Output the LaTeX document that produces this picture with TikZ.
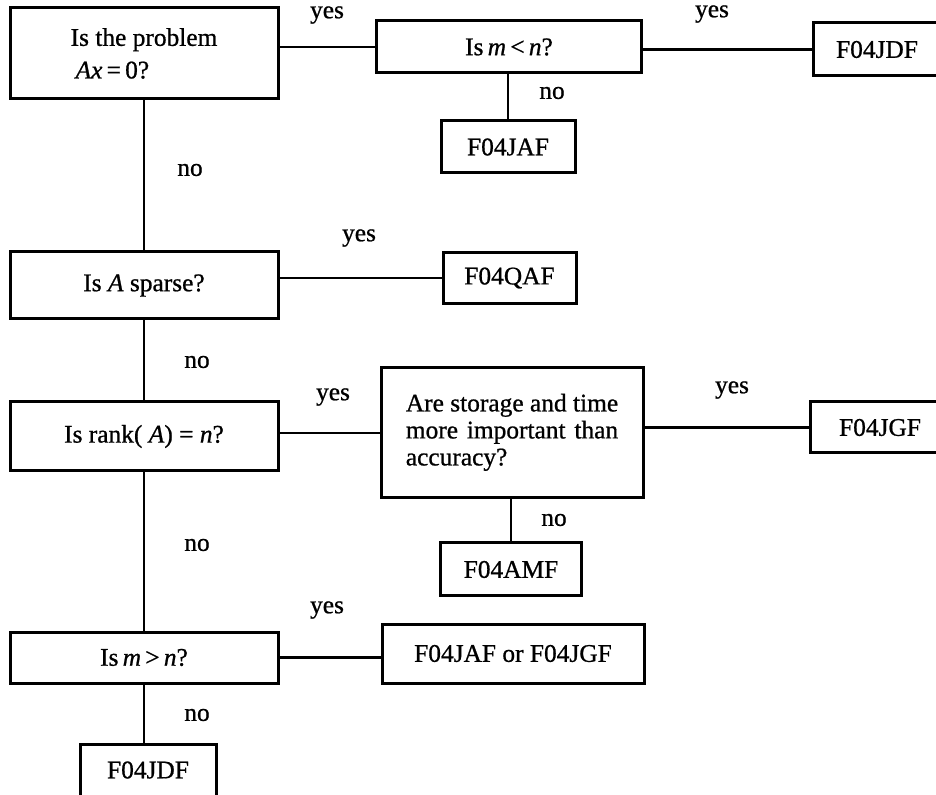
\documentclass[tikz,border=0pt]{standalone}
\usepackage{fontspec}
\setmainfont{Liberation Serif}[FakeBold=0.8]
\newlength\storagewd
\begin{document}
\begin{tikzpicture}[x=0.5pt,y=-0.5pt,
  box/.style={draw, line width=1.5pt, inner sep=0pt,
    font=\fontsize{12.7}{14.5}\selectfont},
  wire/.style={line width=1.3pt},
  lbl/.style={inner sep=0pt, font=\fontsize{12.7}{14.5}\selectfont}]
\useasboundingbox (0,0) rectangle (936,795);
\fill[white] (0,0) rectangle (936,795);
\clip (0,0) rectangle (936,795);

% questions down the left-hand spine
\node[box, minimum width=134pt, minimum height=45.5pt, align=left,
  font=\fontsize{12.7}{16.3}\selectfont] (q1) at (144,53.5)
  {Is the problem\\\hspace{2.5pt}\textit{Ax}\,=\,0?};
\node[box, minimum width=134pt, minimum height=33.5pt] (q3) at (144,285.5)
  {Is \textit{A} sparse?};
\node[box, minimum width=134pt, minimum height=34.5pt] (q4) at (144,436.5)
  {Is rank( \textit{A}) = \textit{n}?};
\node[box, minimum width=134pt, minimum height=25.5pt] (q6) at (144,657.5)
  {Is\,\textit{m}\,>\,\textit{n}?};

% second-level questions
\node[box, minimum width=132.5pt, minimum height=26pt] (q2) at (509,47)
  {Is\,\textit{m}\,<\,\textit{n}?};
\node[box, minimum width=131pt, minimum height=65pt,
  font=\fontsize{12.7}{13.5}\selectfont] (q5) at (512,433)
  {\raisebox{6.5pt}{\begin{tabular}{@{}l@{}}
     Are storage and time\\
     \settowidth{\storagewd}{Are storage and time}%
     \makebox[\storagewd][s]{more important than}\\
     accuracy?
   \end{tabular}}};

% routines
\node[box, minimum width=64pt, minimum height=26.5pt] (r1) at (877,49.5) {F04JDF};
\node[box, minimum width=67pt, minimum height=26pt] (r2) at (508,147) {F04JAF};
\node[box, minimum width=66.5pt, minimum height=25.5pt] (r3) at (509.5,278) {F04QAF};
\node[box, minimum width=70pt, minimum height=25.5pt] (r4) at (880,427.5) {F04JGF};
\node[box, minimum width=70.5pt, minimum height=26.5pt] (r5) at (511,569.5) {F04AMF};
\node[box, minimum width=131pt, minimum height=29.5pt] (r6) at (513,653.5) {F04JAF or F04JGF};
\node[box, minimum width=68pt, minimum height=26pt] (r7) at (148,770) {F04JDF};

% connectors
\draw[wire] (q1.east |- q2.west) -- (q2.west);
\draw[wire] (q2.east |- r1.west) -- (r1.west);
\draw[wire] (r2.north |- q2.south) -- (r2.north);
\draw[wire] (q1.south) -- (q1.south |- q3.north);
\draw[wire] (q3.east |- r3.west) -- (r3.west);
\draw[wire] (q3.south) -- (q3.south |- q4.north);
\draw[wire] (q4.east |- q5.west) -- (q5.west);
\draw[wire] (q5.east |- r4.west) -- (r4.west);
\draw[wire] (r5.north |- q5.south) -- (r5.north);
\draw[wire] (q4.south) -- (q4.south |- q6.north);
\draw[wire] (q6.east) -- (q6.east -| r6.west);
\draw[wire] (q6.south) -- (q6.south |- r7.north);

% branch labels
\node[lbl] (y1) at (327,15) {yes};
\node[lbl] (y2) at (712,14) {yes};
\node[lbl] (y3) at (359,238) {yes};
\node[lbl] (y4) at (333,397) {yes};
\node[lbl] (y5) at (732,390) {yes};
\node[lbl] (y6) at (327,610) {yes};
\node[lbl] (n1) at (552,93) {no};
\node[lbl] (n2) at (190,170) {no};
\node[lbl] (n3) at (197,362) {no};
\node[lbl] (n4) at (554,520) {no};
\node[lbl] (n5) at (197,545) {no};
\node[lbl] (n6) at (197,715) {no};
\end{tikzpicture}
\end{document}
